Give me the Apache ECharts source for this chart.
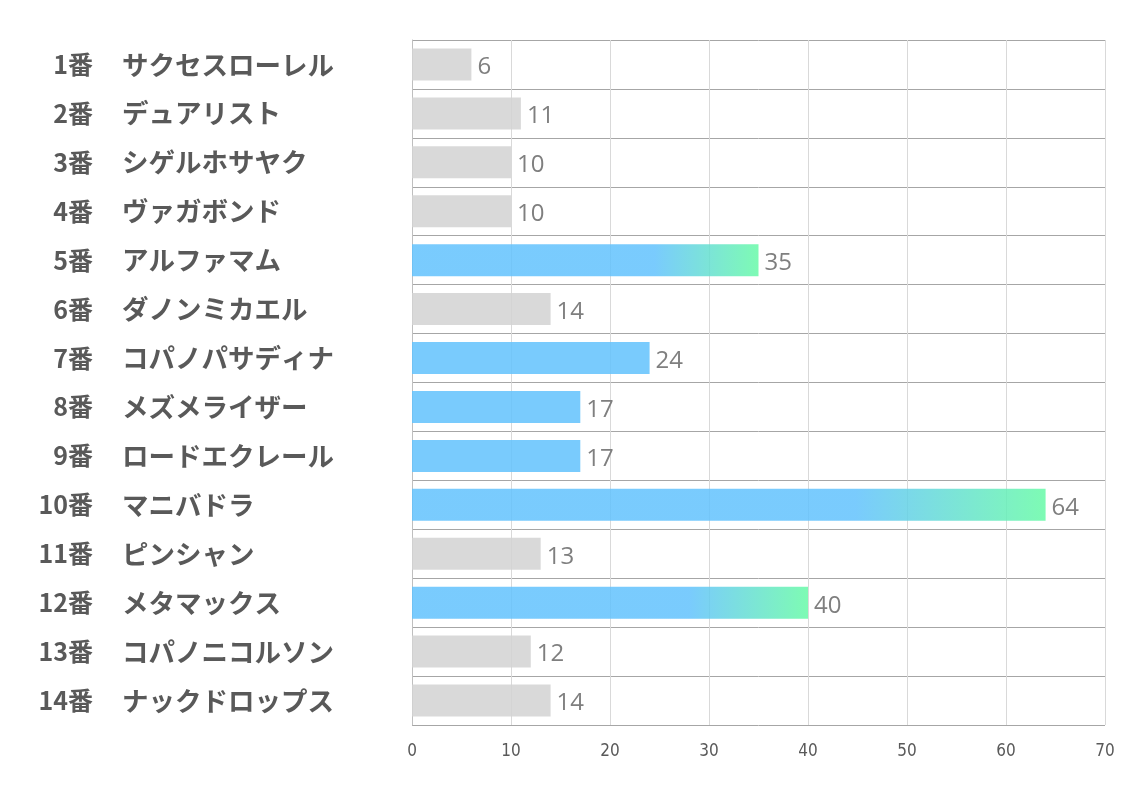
<!DOCTYPE html>
<html><head><meta charset="utf-8">
<script src="https://cdn.jsdelivr.net/npm/echarts@6/dist/echarts.min.js"></script>
<style>html,body{margin:0;padding:0;background:#fff}#c{width:1134px;height:793px}</style>
</head><body><div id="c"></div>
<script>
const numbers = ['1番','2番','3番','4番','5番','6番','7番','8番','9番','10番','11番','12番','13番','14番'];
const names = ['サクセスローレル','デュアリスト','シゲルホサヤク','ヴァガボンド','アルファマム','ダノンミカエル','コパノパサディナ','メズメライザー','ロードエクレール','マニバドラ','ピンシャン','メタマックス','コパノニコルソン','ナックドロップス'];
const values = [6,11,10,10,35,14,24,17,17,64,13,40,12,14];
const groups = ['gray','gray','gray','gray','grad','gray','blue','blue','blue','grad','gray','grad','gray','gray'];
const xTicks = [0,10,20,30,40,50,60,70];

const BLUE = 'rgba(98,194,253,0.85)', GREEN = 'rgba(103,250,167,0.85)', GRAY = 'rgba(210,210,210,0.85)';
function colorFor(g){
  if (g === 'gray') return GRAY;
  if (g === 'blue') return BLUE;
  return new echarts.graphic.LinearGradient(0,0,1,0,[{offset:0,color:BLUE},{offset:0.7,color:BLUE},{offset:1,color:GREEN}]);
}
const numFont = {fontSize:25,fontWeight:'bold',color:'#595959',fontFamily:'Noto Sans CJK JP'};
const nameFont = {fontSize:26.5,fontWeight:'bold',color:'#595959',fontFamily:'Noto Sans CJK JP'};
const chart = echarts.init(document.getElementById('c'));
chart.setOption({
  animation:false,
  grid:{left:412,right:29,top:40,bottom:68,containLabel:false},
  xAxis:{type:'value',min:xTicks[0],max:xTicks[xTicks.length-1],interval:10,
    axisLine:{show:false},axisTick:{show:false},
    splitLine:{show:true,lineStyle:{color:'#D9D9D9',width:1}},
    axisLabel:{margin:18,color:'#595959',fontSize:17,fontFamily:'DejaVu Sans Condensed'}},
  yAxis:[
    {type:'category',inverse:true,data:numbers,position:'left',
      axisLine:{show:true,lineStyle:{color:'#BFBFBF'}},axisTick:{show:false},
      splitLine:{show:true,lineStyle:{color:'#A6A6A6',width:1}},
      axisLabel:Object.assign({margin:319,align:'right'},numFont)},
    {type:'category',inverse:true,data:names,position:'left',offset:0,
      axisLine:{show:false},axisTick:{show:false},splitLine:{show:false},
      axisLabel:Object.assign({margin:290,align:'left'},nameFont)}
  ],
  series:[{type:'bar',barWidth:32,yAxisIndex:0,
    data:values.map((v,i)=>({value:v,itemStyle:{color:colorFor(groups[i])}})),
    label:{show:true,position:'right',distance:6,offset:[0,3],color:'#7F7F7F',fontSize:24,fontFamily:'Open Sans'}}]
});
</script></body></html>
